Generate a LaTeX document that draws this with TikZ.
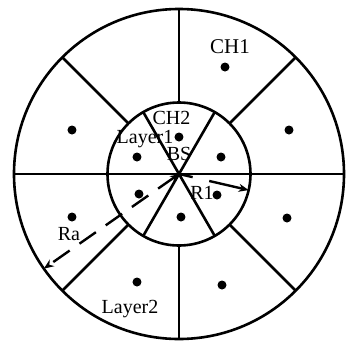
\documentclass[tikz,border=0pt]{standalone}
\usepackage{fontspec}
\setmainfont{Liberation Serif}
\usetikzlibrary{arrows.meta}
\begin{document}
\begin{tikzpicture}[x=1pt,y=1pt,
  ln/.style={line width=2.6pt},
  dot/.style={circle,fill=black,inner sep=0pt,minimum size=9pt},
  lbl/.style={font=\fontsize{20}{22}\selectfont,anchor=base,inner sep=0pt},
  dsh/.style={line width=2.4pt,dash pattern=on 20pt off 12pt}]
\useasboundingbox (-179,-167) rectangle (169,174);
\coordinate (O) at (0,0);
\draw[ln] (O) circle (165);
\draw[ln] (O) circle (71.5);
\coordinate (L) at (180:165);
\coordinate (R) at (0:165);
\draw[ln] (L) -- (R);
\foreach \a in {60,120,240,300} {\coordinate (i\a) at (\a:71.5); \draw[ln] (O) -- (i\a);}
\foreach \a in {45,90,135,225,270,315} {\coordinate (a\a) at (\a:71.5); \coordinate (b\a) at (\a:165); \draw[ln] (a\a) -- (b\a);}
% inner dots
\node[dot] (d1) at (0,37) {};
\node[dot] (d2) at (-42,17) {};
\node[dot] (d3) at (42,17) {};
\node[dot] (d4) at (-40,-20) {};
\node[dot] (d5) at (2,-43) {};
\node[dot] (d6) at (38,-21) {};
% outer dots
\node[dot] (e1) at (46,107) {};
\node[dot] (e2) at (110,44) {};
\node[dot] (e3) at (-107,44) {};
\node[dot] (e4) at (-107,-43) {};
\node[dot] (e5) at (108,-44) {};
\node[dot] (e6) at (-42,-108) {};
\node[dot] (e7) at (43,-111) {};
% labels
\node[lbl,font=\fontsize{21}{23}\selectfont] (ch1) at (51,121) {CH1};
\node[lbl] (ch2) at (-7.5,50) {CH2};
\node[lbl] (l1) at (-34,31) {Layer1};
\node[lbl] (bs) at (0,14) {BS};
\node[lbl] (r1) at (23,-25) {R1};
\node[lbl] (ra) at (-110,-66) {Ra};
\node[lbl] (l2) at (-49,-139) {Layer2};
% arrows
\coordinate (ra end) at (215:165);
\coordinate (r1 end) at (-13:71.5);
\draw[dsh,{Stealth[length=9pt,width=7pt]}-{Stealth[length=10pt,width=8pt]}] (O) -- (ra end);
\draw[line width=2.4pt,dash pattern=on 14pt off 17pt on 45pt,-{Stealth[length=10pt,width=8pt]}] (O) -- (r1 end);
\end{tikzpicture}
\end{document}
